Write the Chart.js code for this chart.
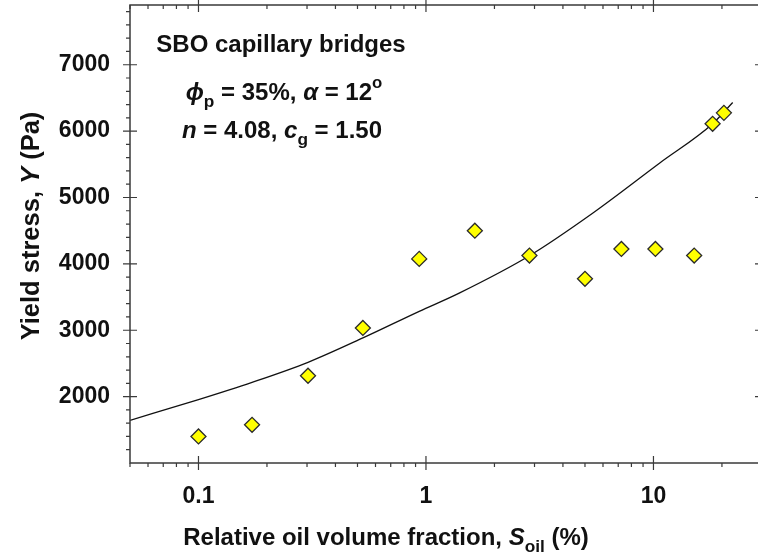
<!DOCTYPE html>
<html><head><meta charset="utf-8">
<script src="https://cdn.jsdelivr.net/npm/chart.js@4.4.1/dist/chart.umd.min.js"></script>
<style>
html,body{margin:0;padding:0;background:#fff;overflow:hidden;width:758px;height:556px}
#wrap{position:absolute;left:0;top:0;width:770px;height:556px}
</style>
</head><body><div id="wrap"><canvas id="c" width="770" height="556"></canvas></div>
<script>
// Measured data (S_oil in %, yield stress in Pa)
const oilFraction = [0.1, 0.172, 0.303, 0.528, 0.934, 1.64, 2.85, 5.0, 7.23, 10.2, 15.1, 18.2, 20.4];
const yieldStress = [1400, 1575, 2315, 3035, 4075, 4500, 4125, 3775, 4225, 4225, 4125, 6110, 6275];
// Model curve
const fitFraction = [0.05, 0.1, 0.172, 0.303, 0.528, 0.934, 1.40, 2.85, 5.42, 10.66, 18.2, 22.3];
const fitStress = [1643, 1955, 2215, 2517, 2884, 3285, 3560, 4123, 4767, 5520, 6111, 6432];
// Ticks
const xTicks = [0.1, 1, 10];
const xTickLabels = ['0.1', '1', '10'];
const xMinorTicks = [0.05,0.06,0.07,0.08,0.09,0.2,0.3,0.4,0.5,0.6,0.7,0.8,0.9,2,3,4,5,6,7,8,9,20,30];
const yTicks = [2000, 3000, 4000, 5000, 6000, 7000];
const yTickLabels = ['2000', '3000', '4000', '5000', '6000', '7000'];
const yMinorTicks = [1200,1400,1600,1800,2200,2400,2600,2800,3200,3400,3600,3800,4200,4400,4600,4800,5200,5400,5600,5800,6200,6400,6600,6800,7200,7400,7600,7800];

const FF = '"Liberation Sans", Arial, Helvetica, sans-serif';
const AXIS = '#3a3a3a';

function drawRich(ctx, segs, cx, y, baseSize, align) {
  const parts = segs.map(s => {
    const size = baseSize * (s.scale || 1);
    const font = (s.style || 'bold') + ' ' + size + 'px ' + FF;
    ctx.font = font;
    return {s, font, w: ctx.measureText(s.t).width, dy: (s.dy || 0) * baseSize};
  });
  const total = parts.reduce((a, p) => a + p.w, 0);
  let x = align === 'left' ? cx : cx - total / 2;
  ctx.textBaseline = 'alphabetic';
  ctx.textAlign = 'left';
  for (const p of parts) {
    ctx.font = p.font;
    ctx.fillText(p.s.t, x, y + p.dy);
    x += p.w;
  }
}

const decor = {
  id: 'decor',
  afterDatasetsDraw(chart) {
    const {ctx, chartArea: a, scales: {x, y}} = chart;
    ctx.save();
    ctx.strokeStyle = AXIS;
    ctx.lineWidth = 1.5;
    ctx.strokeRect(a.left, a.top, a.right - a.left, a.bottom - a.top);
    ctx.lineWidth = 1.2;
    ctx.beginPath();
    for (const v of xTicks) {
      const px = x.getPixelForValue(v);
      ctx.moveTo(px, a.bottom - 7); ctx.lineTo(px, a.bottom + 7);
      ctx.moveTo(px, a.top - 7); ctx.lineTo(px, a.top + 7);
    }
    for (const v of xMinorTicks) {
      const px = x.getPixelForValue(v);
      ctx.moveTo(px, a.bottom); ctx.lineTo(px, a.bottom + 4);
      ctx.moveTo(px, a.top); ctx.lineTo(px, a.top + 4);
    }
    for (const v of yTicks) {
      const py = y.getPixelForValue(v);
      ctx.moveTo(a.left - 7, py); ctx.lineTo(a.left + 7, py);
      ctx.moveTo(a.right - 7, py); ctx.lineTo(a.right + 7, py);
    }
    for (const v of yMinorTicks) {
      const py = y.getPixelForValue(v);
      ctx.moveTo(a.left - 4, py); ctx.lineTo(a.left, py);
      ctx.moveTo(a.right, py); ctx.lineTo(a.right + 4, py);
    }
    ctx.stroke();

    ctx.fillStyle = '#111';
    // annotation
    drawRich(ctx, [{t: 'SBO capillary bridges'}], 281, 52, 24);
    drawRich(ctx, [
      {t: '\u03D5', style: 'italic bold'},
      {t: 'p', scale: 0.72, dy: 0.28},
      {t: ' = 35%, '},
      {t: '\u03B1', style: 'italic bold'},
      {t: ' = 12'},
      {t: 'o', scale: 0.7, dy: -0.5}
    ], 284, 100, 24);
    drawRich(ctx, [
      {t: 'n', style: 'italic bold'},
      {t: ' = 4.08, '},
      {t: 'c', style: 'italic bold'},
      {t: 'g', scale: 0.72, dy: 0.28},
      {t: ' = 1.50'}
    ], 282, 138, 24);

    // x title
    drawRich(ctx, [
      {t: 'Relative oil volume fraction, '},
      {t: 'S', style: 'italic bold'},
      {t: 'oil', scale: 0.72, dy: 0.28},
      {t: ' (%)'}
    ], 386, 545, 24);
    // y title
    ctx.translate(39, 226);
    ctx.rotate(-Math.PI / 2);
    drawRich(ctx, [
      {t: 'Yield stress, '},
      {t: 'Y', style: 'italic bold'},
      {t: ' (Pa)'}
    ], 0, 0, 25.5);
    ctx.restore();
  }
};

new Chart(document.getElementById('c'), {
  type: 'scatter',
  data: {
    datasets: [
      {
        label: 'data',
        data: oilFraction.map((v, i) => ({x: v, y: yieldStress[i]})),
        pointStyle: 'rectRot',
        pointRadius: 7.5,
        pointBackgroundColor: '#ffff00',
        pointBorderColor: '#2a2a2a',
        pointBorderWidth: 1.3,
        order: 1
      },
      {
        label: 'model',
        data: fitFraction.map((v, i) => ({x: v, y: fitStress[i]})),
        showLine: true,
        pointRadius: 0,
        borderColor: '#111',
        borderWidth: 1.3,
        cubicInterpolationMode: 'monotone',
        order: 2
      }
    ]
  },
  options: {
    responsive: false,
    animation: false,
    layout: {autoPadding: false, padding: {left: 0, top: 5, right: 8, bottom: 0}},
    plugins: {legend: {display: false}, tooltip: {enabled: false}},
    scales: {
      x: {
        type: 'logarithmic', min: 0.05, max: 30, position: 'bottom',
        grid: {display: false, drawTicks: false}, border: {display: false},
        afterBuildTicks: s => { s.ticks = xTicks.map(v => ({value: v})); },
        afterFit: s => { s.height = 93; s.paddingLeft = 0; s.paddingRight = 0; s.paddingTop = 0; s.paddingBottom = 0; },
        ticks: {
          autoSkip: false, maxRotation: 0, padding: 20, color: '#111',
          font: {family: FF, size: 23, weight: 'bold'},
          callback: v => { const i = xTicks.indexOf(v); return i >= 0 ? xTickLabels[i] : ''; }
        }
      },
      y: {
        type: 'linear', min: 1000, max: 7900, position: 'left',
        grid: {display: false, drawTicks: false}, border: {display: false},
        afterBuildTicks: s => { s.ticks = yTicks.map(v => ({value: v})); },
        afterFit: s => { s.width = 130; s.paddingTop = 0; s.paddingBottom = 0; s.paddingLeft = 0; s.paddingRight = 0; },
        ticks: {
          autoSkip: false, padding: 20, color: '#111',
          font: {family: FF, size: 23, weight: 'bold'},
          callback: v => { const i = yTicks.indexOf(v); return i >= 0 ? yTickLabels[i] : ''; }
        }
      }
    }
  },
  plugins: [decor]
});
</script>
</body></html>
